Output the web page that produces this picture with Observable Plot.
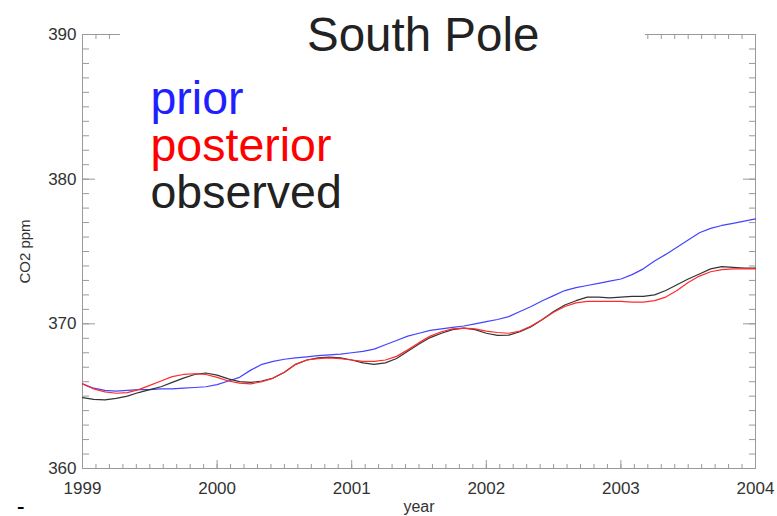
<!DOCTYPE html>
<html>
<head>
<meta charset="utf-8">
<script src="https://cdn.jsdelivr.net/npm/d3@7"></script>
<script src="https://cdn.jsdelivr.net/npm/@observablehq/plot@0.6"></script>
<style>
  html, body { margin: 0; padding: 0; background: #fff; }
  #wrap { position: relative; width: 777px; height: 516px; font-family: "Liberation Sans", Arial, Helvetica, sans-serif; overflow: hidden; }
  #titlebox { position: absolute; left: 120px; top: 12px; width: 525px; height: 46px; background: #fff; }
  #title { position: absolute; left: 307px; top: 11px; font-size: 47.5px; line-height: 47.5px; color: #222; white-space: nowrap; }
  #dash { position: absolute; left: 17px; top: 499px; font-size: 16px; line-height: 16px; font-weight: bold; color: #000; transform: scaleX(1.4); transform-origin: left center; }
</style>
</head>
<body>
<div id="wrap">
  <div id="chart"></div>
  <div id="titlebox"></div>
  <div id="title">South Pole</div>
  <div id="dash">-</div>
</div>
<script>
// ---- data (monthly, Jan 1999 .. Jan 2004) ----
const startYear = 1999;
const observed = [
  364.9, 364.78, 364.75, 364.85, 365.0, 365.25, 365.45, 365.65, 365.95, 366.25, 366.5, 366.6,
  366.45, 366.2, 366.0, 365.95, 366.05, 366.25, 366.65, 367.2, 367.5, 367.65, 367.7, 367.65,
  367.5, 367.3, 367.2, 367.3, 367.6, 368.1, 368.6, 369.05, 369.35, 369.6, 369.7, 369.6,
  369.35, 369.2, 369.22, 369.45, 369.8, 370.3, 370.85, 371.3, 371.6, 371.85, 371.85, 371.8,
  371.85, 371.9, 371.9, 372.0, 372.3, 372.7, 373.1, 373.45, 373.8, 373.95, 373.9, 373.85,
  373.85
];
const posterior = [
  365.85, 365.5, 365.3, 365.2, 365.25, 365.45, 365.75, 366.05, 366.35, 366.5, 366.55, 366.5,
  366.3, 366.05, 365.9, 365.85, 366.0, 366.25, 366.65, 367.2, 367.5, 367.6, 367.65, 367.6,
  367.5, 367.4, 367.4, 367.5, 367.75, 368.2, 368.7, 369.15, 369.45, 369.65, 369.7, 369.65,
  369.5, 369.4, 369.35, 369.5, 369.85, 370.3, 370.8, 371.2, 371.45, 371.55, 371.55, 371.55,
  371.55, 371.5, 371.5, 371.6, 371.85, 372.3, 372.85, 373.3, 373.6, 373.75, 373.8, 373.8,
  373.8
];
const prior = [
  365.85, 365.55, 365.4, 365.35, 365.4, 365.45, 365.45, 365.5, 365.5, 365.55, 365.6, 365.65,
  365.8, 366.05, 366.3, 366.8, 367.2, 367.4, 367.55, 367.65, 367.72, 367.8, 367.85, 367.9,
  368.0, 368.1, 368.25, 368.55, 368.85, 369.15, 369.35, 369.55, 369.65, 369.75, 369.85, 370.0,
  370.15, 370.3, 370.5, 370.85, 371.2, 371.6, 371.95, 372.3, 372.5, 372.65, 372.8, 372.95,
  373.1, 373.4, 373.8, 374.35, 374.8, 375.3, 375.8, 376.3, 376.6, 376.8, 376.95, 377.1,
  377.25
];
const xTicks = [1999, 2000, 2001, 2002, 2003, 2004];
const yTicks = [360, 370, 380, 390];
const seriesNames = ["prior", "posterior", "observed"];
const seriesColors = ["#4444ff", "#ff2a2a", "#333333"];
const legendColors = ["#1f1fff", "#ff0000", "#222222"];

// ---- build table ----
const rows = [];
[prior, posterior, observed].forEach((vals, s) => {
  vals.forEach((v, i) => rows.push({series: seriesNames[s], year: startYear + i / 12, co2: v}));
});
const xMinor = d3.ticks(1999, 2004, 50);
const yMinor = d3.ticks(360, 390, 30);
const gray = "#9a9a9a";
const fmt = d3.format("d");

const chart = Plot.plot({
  width: 777,
  height: 516,
  marginLeft: 82,
  marginRight: 22,
  marginTop: 34,
  marginBottom: 48,
  style: {fontFamily: '"Liberation Sans", Arial, Helvetica, sans-serif', background: "#fff"},
  x: {domain: [1999, 2004]},
  y: {domain: [360, 390]},
  marks: [
    Plot.frame({stroke: gray}),
    // minor ticks (inward)
    Plot.axisX(xMinor, {anchor: "bottom", tickSize: -4, tickFormat: () => "", stroke: gray, label: null}),
    Plot.axisX(xMinor, {anchor: "top", tickSize: -4, tickFormat: () => "", stroke: gray, label: null}),
    Plot.axisY(yMinor, {anchor: "left", tickSize: -7, tickFormat: () => "", stroke: gray, label: null}),
    Plot.axisY(yMinor, {anchor: "right", tickSize: -7, tickFormat: () => "", stroke: gray, label: null}),
    // major ticks (inward)
    Plot.axisX(xTicks, {anchor: "bottom", tickSize: -8, tickFormat: () => "", stroke: gray, label: null}),
    Plot.axisX(xTicks, {anchor: "top", tickSize: -8, tickFormat: () => "", stroke: gray, label: null}),
    Plot.axisY(yTicks, {anchor: "left", tickSize: -13, tickFormat: () => "", stroke: gray, label: null}),
    Plot.axisY(yTicks, {anchor: "right", tickSize: -13, tickFormat: () => "", stroke: gray, label: null}),
    // tick labels
    Plot.axisX(xTicks, {anchor: "bottom", tickSize: 0, tickPadding: 13, tickFormat: fmt, fontSize: 17, fill: "#333", label: null}),
    Plot.axisY(yTicks, {anchor: "left", tickSize: 0, tickPadding: 6, tickFormat: fmt, fontSize: 17, fill: "#333", label: null}),
    // axis titles
    Plot.text(["year"], {frameAnchor: "bottom", dy: 43, lineAnchor: "bottom", fontSize: 16, fill: "#333"}),
    Plot.text(["CO2 ppm"], {frameAnchor: "left", dx: -57, rotate: -90, lineAnchor: "middle", textAnchor: "middle", fontSize: 15, fill: "#333"}),
    // data
    Plot.line(rows.filter(d => d.series === "prior"), {x: "year", y: "co2", stroke: seriesColors[0], strokeWidth: 1.2}),
    Plot.line(rows.filter(d => d.series === "observed"), {x: "year", y: "co2", stroke: seriesColors[2], strokeWidth: 1.2}),
    Plot.line(rows.filter(d => d.series === "posterior"), {x: "year", y: "co2", stroke: seriesColors[1], strokeWidth: 1.2}),
    // legend
    ...seriesNames.map((name, i) => Plot.text([name], {frameAnchor: "top-left", dx: 68, dy: 79 + 47 * i, textAnchor: "start", lineAnchor: "bottom", fontSize: 46.5, fill: legendColors[i]}))
  ]
});
document.getElementById("chart").appendChild(chart);
</script>
</body>
</html>
